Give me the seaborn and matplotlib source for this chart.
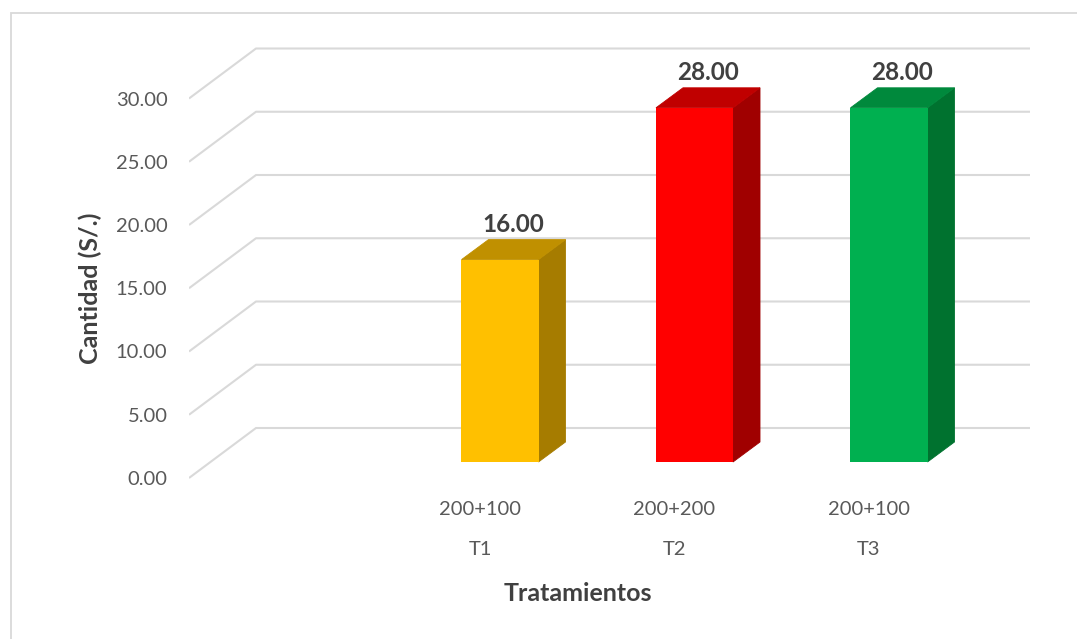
import numpy as np
import pandas as pd
import matplotlib
matplotlib.use("Agg")
import matplotlib.pyplot as plt
import seaborn as sns
from matplotlib.patches import Rectangle

# chart data
tratamientos = ["T1", "T2", "T3"]
dosis = ["200+100", "200+200", "200+100"]
cantidad = [16.00, 28.00, 28.00]
y_ticks = [0, 5, 10, 15, 20, 25, 30]

# colours: front, side, top
front_colors = ["#FFC000", "#FF0000", "#00B050"]
side_colors = ["#A67C00", "#A00000", "#00722F"]
top_colors = ["#C09000", "#C00000", "#00893C"]

df = pd.DataFrame({"Tratamiento": tratamientos, "Cantidad": cantidad})

sns.set_theme(style="white")
plt.rcParams["font.family"] = ["Lato", "DejaVu Sans"]

W, H = 1077, 639
fig = plt.figure(figsize=(W / 100, H / 100), dpi=100)

# pixel layout of the (fake 3D) plot area
x0_px, xstep_px = 500, 194.5      # centre of first bar, spacing
y0_px, ystep_px = 462, 12.65      # bar baseline, px per unit
left_px, right_px, top_px, bot_px = 189, 1040, 30, 490
ax = fig.add_axes([left_px / W, 1 - bot_px / H, (right_px - left_px) / W, (bot_px - top_px) / H])

sns.barplot(data=df, x="Tratamiento", y="Cantidad", hue="Tratamiento",
            palette=front_colors, width=0.396, saturation=1, legend=False,
            linewidth=0, ax=ax, zorder=4)

ax.set_xlim((left_px - x0_px) / xstep_px, (right_px - x0_px) / xstep_px)
ax.set_ylim((y0_px - bot_px) / ystep_px, (y0_px - top_px) / ystep_px)

# depth offsets (data units)
front_dy = -16 / ystep_px
back_dy = 34 / ystep_px
xf = (189 - x0_px) / xstep_px
xb = (256 - x0_px) / xstep_px
xr = (1030 - x0_px) / xstep_px
grid_c = "#D9D9D9"
for v in y_ticks:
    ax.plot([xf, xb, xr], [v + front_dy, v + back_dy, v + back_dy],
            color=grid_c, lw=1.5, zorder=1, solid_capstyle="butt")

# side and top faces of the bars (drawn slightly under the front face)
bw = 0.396
ddx, ddy = 27 / xstep_px, 20 / ystep_px
for i, h in enumerate(cantidad):
    l, r = i - bw / 2, i + bw / 2
    ax.fill([r, r + ddx, r + ddx, r], [0, ddy, h + ddy, h], color=side_colors[i],
            ec=side_colors[i], lw=0.6, zorder=3)
    ax.fill([l, r, r + ddx, l + ddx], [h, h, h + ddy, h + ddy], color=top_colors[i],
            ec=top_colors[i], lw=0.6, zorder=3)
    ax.text(i + ddx / 2, h + ddy + 0.3, f"{h:.2f}", ha="center", va="bottom",
            fontsize=17.5, fontweight="bold", color="#404040", zorder=5)

# ticks
ax.set_yticks([v + front_dy for v in y_ticks])
ax.set_yticklabels([f"{v:.2f}" for v in y_ticks])
ax.set_xticks([i - 0.103 for i in range(len(tratamientos))])
ax.set_xticklabels([f"{d}\n{t}" for d, t in zip(dosis, tratamientos)], linespacing=2.65)
ax.tick_params(axis="y", length=0, pad=15.5, labelsize=14.5, labelcolor="#595959")
ax.tick_params(axis="x", length=0, pad=8, labelsize=14.5, labelcolor="#595959")

ax.set_xlabel("Tratamientos", fontsize=18, fontweight="bold", color="#404040")
ax.set_ylabel("Cantidad (S/.)", fontsize=18, fontweight="bold", color="#404040")
ax.xaxis.set_label_coords((578 - left_px) / (right_px - left_px), -(582 - bot_px) / (bot_px - top_px))
ax.yaxis.set_label_coords((102 - left_px) / (right_px - left_px), (bot_px - 288) / (bot_px - top_px))

for s in ax.spines.values():
    s.set_visible(False)
ax.patch.set_alpha(0)

# outer chart border (right and bottom edges fall outside the picture)
fig.patches.append(Rectangle((11 / W, -0.1), 1.2, 1 - 13 / H + 0.1,
                             transform=fig.transFigure, fill=False, edgecolor="#D9D9D9", lw=1.3))

fig.savefig("out.png", dpi=100)
